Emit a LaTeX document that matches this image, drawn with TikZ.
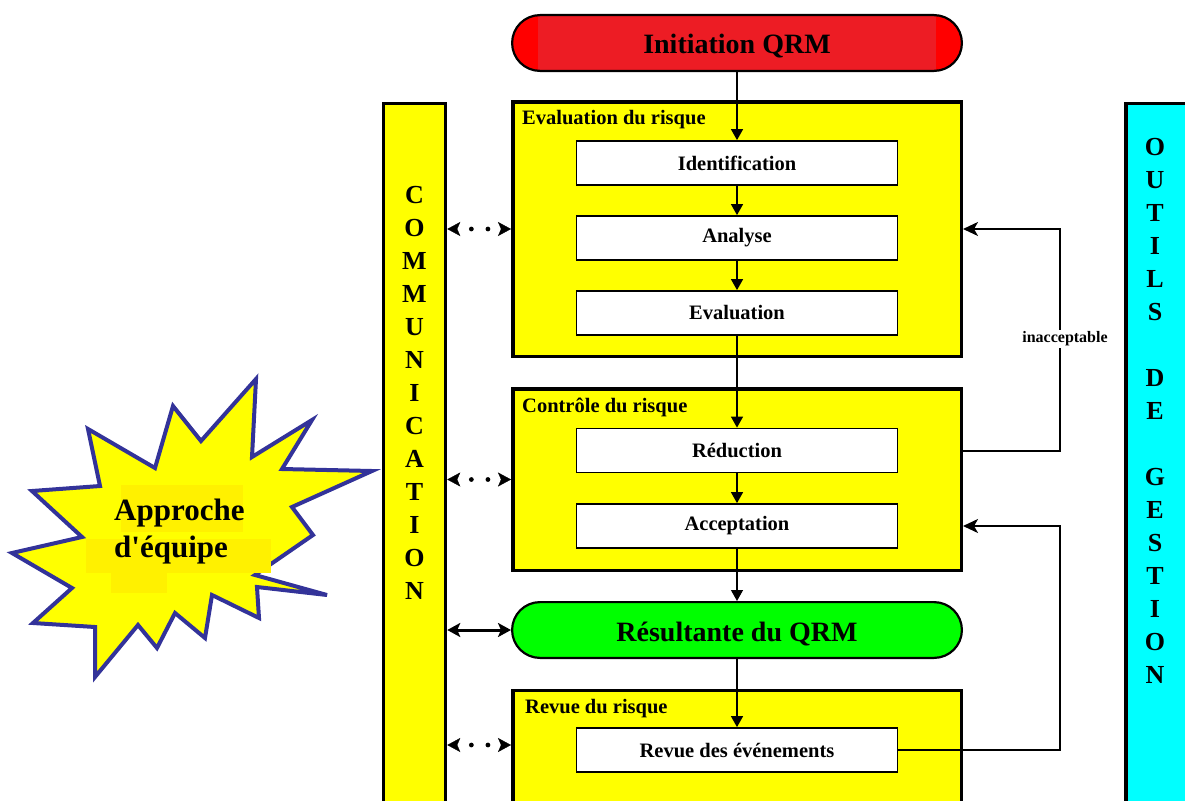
\documentclass[tikz,border=0pt]{standalone}
\usepackage{fontspec}
\setmainfont{Liberation Serif}
% same face without TeX ligatures, so that ' stays a straight quote
\newfontfamily\plainserif{Liberation Serif}
\usetikzlibrary{arrows.meta,decorations.markings}

\definecolor{qred}{HTML}{FF0000}
\definecolor{qredmid}{HTML}{ED1C24}
\definecolor{qyellow}{HTML}{FFFF00}
\definecolor{qgreen}{HTML}{00FF00}
\definecolor{qcyan}{HTML}{00FFFF}
\definecolor{starblue}{HTML}{333399}
\definecolor{starshade}{HTML}{FFF100}

\tikzset{
  phase/.style={draw=black, line width=3.5pt, fill=qyellow, minimum width=448.5pt, inner sep=0pt},
  stepbox/.style={draw=black, line width=1.8pt, fill=white, minimum width=321pt, minimum height=44pt,
    inner sep=0pt, font=\fontsize{20.5}{24}\selectfont\bfseries},
  pill/.style={draw=black, line width=2.2pt, rounded corners=27.9pt, minimum width=449.8pt,
    minimum height=55.8pt, inner sep=0pt, text height=22pt, text depth=0pt,
    font=\fontsize{28}{32}\selectfont\bfseries},
  phaselabel/.style={anchor=base west, inner sep=0pt, font=\fontsize{20.5}{24}\selectfont\bfseries},
  bar/.style={draw=black, line width=3.5pt, inner sep=0pt, anchor=north},
  barletters/.style={align=center, inner sep=0pt, font=\fontsize{26}{33}\selectfont\bfseries},
  flow/.style={line width=1.3pt, -{Triangle[length=11pt,width=12pt]}},
  feedback/.style={line width=2pt, -{Stealth[length=15pt,width=14pt,inset=4pt]}},
  talk/.style={white, line width=0.3pt,
    {Stealth[color=black,length=13pt,width=14pt,inset=3pt]}-{Stealth[color=black,length=13pt,width=14pt,inset=3pt]},
    postaction={decorate},
    decoration={markings,
      mark=at position 0.378 with {\fill[black] (0,0) circle (2.4pt);},
      mark=at position 0.638 with {\fill[black] (0,0) circle (2.4pt);}}},
  talksolid/.style={line width=3pt,
    {Stealth[length=13pt,width=14pt,inset=3pt]}-{Stealth[length=13pt,width=14pt,inset=3pt]}},
}

\begin{document}
\begin{tikzpicture}[x=1pt, y=-1pt]
\useasboundingbox (0,0) rectangle (1185,800);
\clip (0,0) rectangle (1185,800);

% side bars
\node[bar, fill=qyellow, minimum width=62pt, minimum height=740pt] (comm) at (414.5,101.75) {};
\node[barletters] (commtext) at (414.5,392.5) {C\\O\\M\\M\\U\\N\\I\\C\\A\\T\\I\\O\\N};
\node[bar, fill=qcyan, minimum width=70pt, minimum height=740pt] (tools) at (1160.75,101.75) {};
\node[barletters] (toolstext) at (1155,410.5)
  {O\\U\\T\\I\\L\\S\\\mbox{}\\D\\E\\\mbox{}\\G\\E\\S\\T\\I\\O\\N};

% start and result
\node[pill, fill=qred,
  path picture={\fill[qredmid, sharp corners] ([xshift=26pt]path picture bounding box.south west)
     rectangle ([xshift=-26pt]path picture bounding box.north east);}]
  (init) at (737,43) {Initiation QRM};

% risk assessment
\node[phase, minimum height=254.5pt] (eval) at (737,229) {};
\node[phaselabel] (evallab) at (522,124) {Evaluation du risque};
\node[stepbox] (ident) at (737,163) {Identification};
\node[stepbox] (ana) at (737,238) {Analyse};
\node[stepbox] (evalstep) at (737,313) {Evaluation};

% risk control
\node[phase, minimum height=181.5pt] (ctrl) at (737,479.5) {};
\node[phaselabel] (ctrllab) at (522,412) {Contrôle du risque};
\node[stepbox] (red) at (737,450.5) {Réduction};
\node[stepbox] (acc) at (737,526) {Acceptation};

\node[pill, fill=qgreen] (result) at (737,630) {Résultante du QRM};

% risk review
\node[phase, anchor=north, minimum height=140pt] (rev) at (737,688.75) {};
\node[phaselabel] (revlab) at (525,713) {Revue du risque};
\node[stepbox] (revev) at (737,750) {Revue des événements};

% main flow
\draw[flow] (init) -- (ident);
\draw[flow] (ident) -- (ana);
\draw[flow] (ana) -- (evalstep);
\draw[flow] (evalstep) -- (red);
\draw[flow] (red) -- (acc);
\draw[flow] (acc) -- (result);
\draw[flow] (result) -- (revev);

% feedback loops
\coordinate (loopx) at (1060,0);
\draw[feedback] (ctrl.east |- red) -- (loopx |- red) -- (loopx |- eval.east) -- (eval.east);
\node[fill=white, inner sep=1.5pt, font=\fontsize{16}{18}\selectfont\bfseries] (inacc) at (1065,339) {inacceptable};
\draw[feedback] (revev.east) -- (loopx |- revev) -- (loopx |- acc) -- (ctrl.east |- acc);

% communication links
\draw[talk] (comm.east |- eval.west) -- (eval.west);
\draw[talk] (comm.east |- ctrl.west) -- (ctrl.west);
\draw[talksolid] (comm.east |- result.west) -- (result.west);
\draw[talk] (comm.east |- 0,745) -- (rev.west |- 0,745);

% team approach burst
\filldraw[starblue, fill=qyellow, line width=4pt, line join=miter]
  (256,379) -- (252,457) -- (312,420) -- (282,469) -- (372,471) -- (292,507)
  -- (313,535) -- (255,575) -- (327,595) -- (257,587) -- (259,618) -- (212,595)
  -- (205,638) -- (175,613) -- (157,648) -- (138,625) -- (95,677) -- (95,627)
  -- (33,623) -- (72,588) -- (12,553) -- (82,537) -- (32,491) -- (100,486)
  -- (88,429) -- (155,468) -- (173,406) -- (201,441) -- cycle;
\fill[starshade] (121,485) rectangle (243,532);
\fill[starshade] (86,539) rectangle (271,573);
\fill[starshade] (111,573) rectangle (167,593);
\node[anchor=west, align=left, inner sep=0pt, font=\plainserif\fontsize{31}{37}\selectfont\bfseries]
  (team) at (114,532) {Approche\\d'équipe};
\end{tikzpicture}
\end{document}
